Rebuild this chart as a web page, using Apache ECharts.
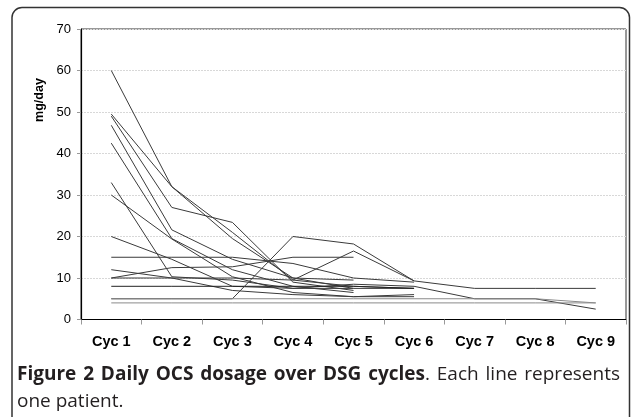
<!DOCTYPE html>
<html><head><meta charset="utf-8">
<script src="https://cdn.jsdelivr.net/npm/echarts@6/dist/echarts.min.js"></script>
<style>html,body{margin:0;padding:0;background:#fff}#c{width:633px;height:417px}</style>
</head><body><div id="c"></div>
<script>
const categories = ['Cyc 1','Cyc 2','Cyc 3','Cyc 4','Cyc 5','Cyc 6','Cyc 7','Cyc 8','Cyc 9'];
const yTicks = [0,10,20,30,40,50,60,70];
const p1  = [60, 32, 21, 9.5, 8, 7.5];
const p2  = [49.5, 32, 19.5, 10, 7.5];
const p3  = [49, 27, 23.4, 9, 7];
const p4  = [46.8, 21.6, 14.5, 10, 9.5];
const p5  = [42.5, 19.5, 12, 8, 6.5];
const p6  = [33, 10.3, 9.5, 7.5, 7.5, 7.5];
const p7  = [30, 19.4, 10.3, 6.5, 5.5, 5.5];
const p8  = [20, 14.5, 8, 7.5, 8.5, 8, 5, 5, 2.5];
const p9  = [15, 15, 15, 13.5, 10, 9];
const p10 = [12, 10, 7, 6, 5.5, 6];
const p11 = [10, 12.5, 12.7, 15, 15];
const p12 = [10, 10, 10, 9.5, 16.5, 9.3];
const p13 = [8, 8, 8, 8, 8, 7.5];
const p14 = [5, 5, 5, 20, 18.2, 9.3, 7.5, 7.5, 7.5];
const p15 = [5, 5, 5, 5, 5, 5, 5, 5, 4];
const p16 = [4, 4, 4, 4, 4, 4, 4, 4, 4];
const patients = [p1,p2,p3,p4,p5,p6,p7,p8,p9,p10,p11,p12,p13,p14,p15,p16];
const lineColors = ['#3a3a3a','#3a3a3a','#3a3a3a','#3a3a3a','#3a3a3a','#3a3a3a','#3a3a3a','#3a3a3a','#3a3a3a','#3a3a3a','#3a3a3a','#3a3a3a','#222','#3a3a3a','#8a8a8a','#8a8a8a'];

const captionBold = 'Figure 2 Daily OCS dosage over DSG cycles';
const captionRest = '. Each line represents';
const captionLine2 = 'one patient.';

const capFont = 19, capLeft = 17, capRight = 620, capY = 375;
const cv = document.createElement('canvas').getContext('2d');
const words = [];
captionBold.split(' ').forEach(w => words.push({t: w, b: true}));
const restWords = captionRest.split(' ');
words.push({t: restWords[0], b: false, attach: true});
restWords.slice(1).forEach(w => words.push({t: w, b: false}));
function fontOf(b) { return (b ? 'bold ' : '') + capFont + 'px "Open Sans"'; }
words.forEach(w => { cv.font = fontOf(w.b); w.w = cv.measureText(w.t).width; });
const gaps = words.filter(w => !w.attach).length - 1;
const totalW = words.reduce((s, w) => s + w.w, 0);
const gap = (capRight - capLeft - totalW) / gaps;
const capGraphics = [];
let cx = capLeft;
words.forEach((w, i) => {
  if (i > 0 && !w.attach) cx += gap;
  capGraphics.push({type: 'text', x: cx, y: capY, silent: true, style: {
    text: w.t, fontFamily: 'Open Sans', fontWeight: w.b ? 'bold' : 'normal', fontSize: capFont,
    fill: '#231f20', verticalAlign: 'middle'}});
  cx += w.w;
});

const chart = echarts.init(document.getElementById('c'));
chart.setOption({
  animation: false,
  grid: {left: 81, right: 7, top: 29, bottom: 97.5, show: true, borderColor: '#333', borderWidth: 1},
  xAxis: {
    type: 'category', data: categories, boundaryGap: true,
    axisLine: {lineStyle: {color: '#000', width: 1.2}},
    axisTick: {show: true, length: 5, lineStyle: {color: '#999'}},
    axisLabel: {color: '#000', fontFamily: 'Liberation Sans', fontWeight: 'bold', fontSize: 14.5, margin: 15}
  },
  yAxis: {
    type: 'value', min: 0, max: 70, interval: 10,
    axisLine: {show: true, lineStyle: {color: '#000', width: 1.2}},
    axisTick: {show: true, length: 4, lineStyle: {color: '#999'}},
    axisLabel: {color: '#000', fontFamily: 'Liberation Sans', fontSize: 13, margin: 10,
      formatter: v => yTicks.includes(v) ? String(v) : ''},
    splitLine: {show: true, lineStyle: {color: '#d8d8d8', type: [2, 1], width: 1}}
  },
  series: patients.map((d, i) => ({
    type: 'line', data: d, symbol: 'none', silent: true,
    lineStyle: {color: lineColors[i], width: 1}
  })),
  graphic: [
    {type: 'rect', shape: {x: 12, y: 7.5, width: 617.5, height: 440, r: 10}, style: {fill: 'none', stroke: '#333', lineWidth: 1.5}, silent: true},
    {type: 'text', x: 40, y: 100, rotation: Math.PI/2, style: {text: 'mg/day', fontFamily: 'Liberation Sans', fontWeight: 'bold', fontSize: 12.5, fill: '#000', align: 'center', verticalAlign: 'middle'}},
    ...capGraphics,
    {type: 'text', x: capLeft, y: 402, style: {text: captionLine2, fontFamily: 'Open Sans', fontSize: capFont, fill: '#231f20', verticalAlign: 'middle'}}
  ]
});
</script></body></html>
